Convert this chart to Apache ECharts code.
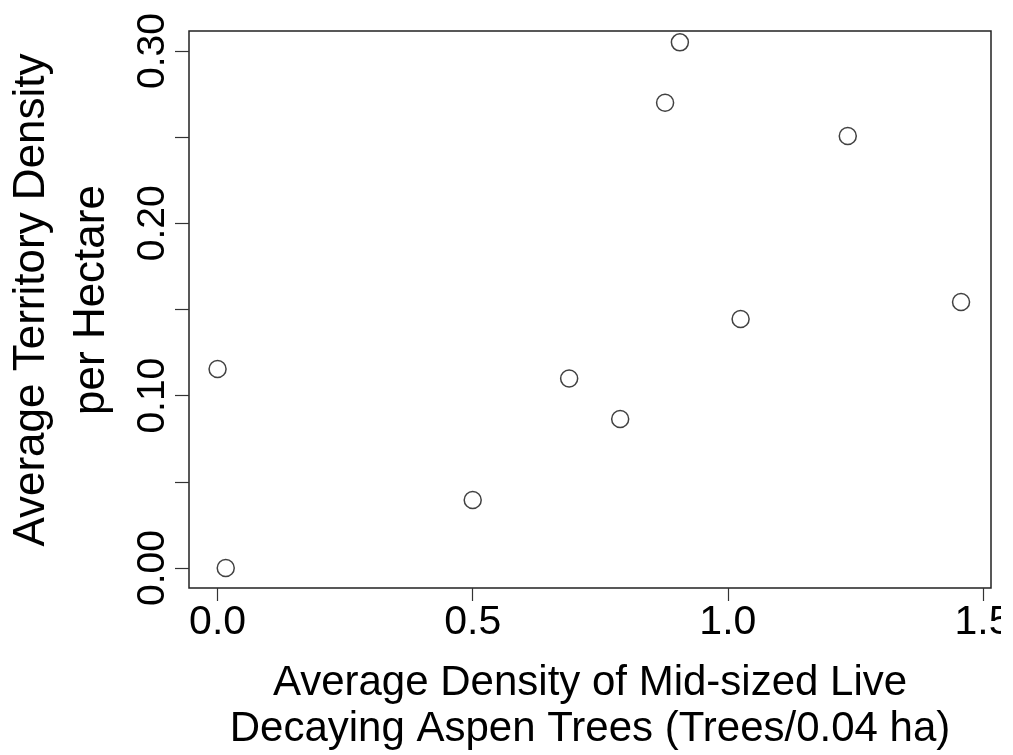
<!DOCTYPE html>
<html>
<head>
<meta charset="utf-8">
<script src="https://cdn.jsdelivr.net/npm/echarts@6/dist/echarts.min.js"></script>
<style>
html,body{margin:0;padding:0;background:#fff;}
#chart{width:1001px;height:755px;}
</style>
</head>
<body>
<div id="chart"></div>
<script>
// Data
const xValues = [0.00, 0.016, 0.50, 0.689, 0.789, 0.877, 0.906, 1.025, 1.235, 1.457];
const yValues = [0.1155, 0.000, 0.0395, 0.110, 0.0865, 0.270, 0.305, 0.1445, 0.2507, 0.1544];
const xTicks = [0.0, 0.5, 1.0, 1.5];
const yTicks = [0.00, 0.05, 0.10, 0.15, 0.20, 0.25, 0.30];
const yLabels = [0.00, 0.10, 0.20, 0.30];
const xTitle = 'Average Density of Mid-sized Live\nDecaying Aspen Trees (Trees/0.04 ha)';
const yTitle = 'Average Territory Density\nper Hectare';

const points = xValues.map((x, i) => [x, yValues[i]]);
const FONT = 'Liberation Sans, Arial, sans-serif';

const chart = echarts.init(document.getElementById('chart'), null, {renderer: 'canvas'});
chart.setOption({
  animation: false,
  backgroundColor: '#fff',
  grid: {
    left: 189, top: 31, width: 802, height: 557,
    outerBoundsMode: 'none', containLabel: false,
    show: true, borderColor: '#222', borderWidth: 1.5, backgroundColor: 'transparent'
  },
  graphic: [{
    type: 'text',
    x: 62, y: 300,
    rotation: Math.PI / 2,
    style: {
      text: yTitle,
      fill: '#000',
      font: '44px Liberation Sans, Arial, sans-serif',
      lineHeight: 60,
      align: 'center',
      verticalAlign: 'middle'
    },
    silent: true
  }],
  xAxis: {
    type: 'value',
    min: -0.056, max: 1.5157,
    axisLine: {show: false, onZero: false},
    splitLine: {show: false},
    axisTick: {show: true, inside: false, length: 13, customValues: xTicks,
      lineStyle: {color: '#333', width: 1.2}},
    axisLabel: {show: true, customValues: xTicks, margin: 14, color: '#000',
      fontFamily: FONT, fontSize: 41, hideOverlap: false,
      formatter: v => v.toFixed(1)},
    name: xTitle,
    nameLocation: 'middle',
    nameGap: 72,
    nameTextStyle: {color: '#000', fontFamily: FONT, fontSize: 42, lineHeight: 46}
  },
  yAxis: {
    type: 'value',
    min: -0.0116, max: 0.3116,
    axisLine: {show: false, onZero: false},
    splitLine: {show: false},
    axisTick: {show: true, inside: false, length: 14, customValues: yTicks,
      lineStyle: {color: '#333', width: 1.2}},
    axisLabel: {show: true, customValues: yLabels, margin: 16, rotate: 90, color: '#000',
      fontFamily: FONT, fontSize: 39, hideOverlap: false,
      formatter: v => v.toFixed(2)}
  },
  series: [{
    type: 'scatter',
    data: points,
    symbol: 'circle',
    symbolSize: 17,
    itemStyle: {color: 'rgba(255,255,255,0)', borderColor: '#111', borderWidth: 1.5},
    silent: true
  }]
});
</script>
</body>
</html>
